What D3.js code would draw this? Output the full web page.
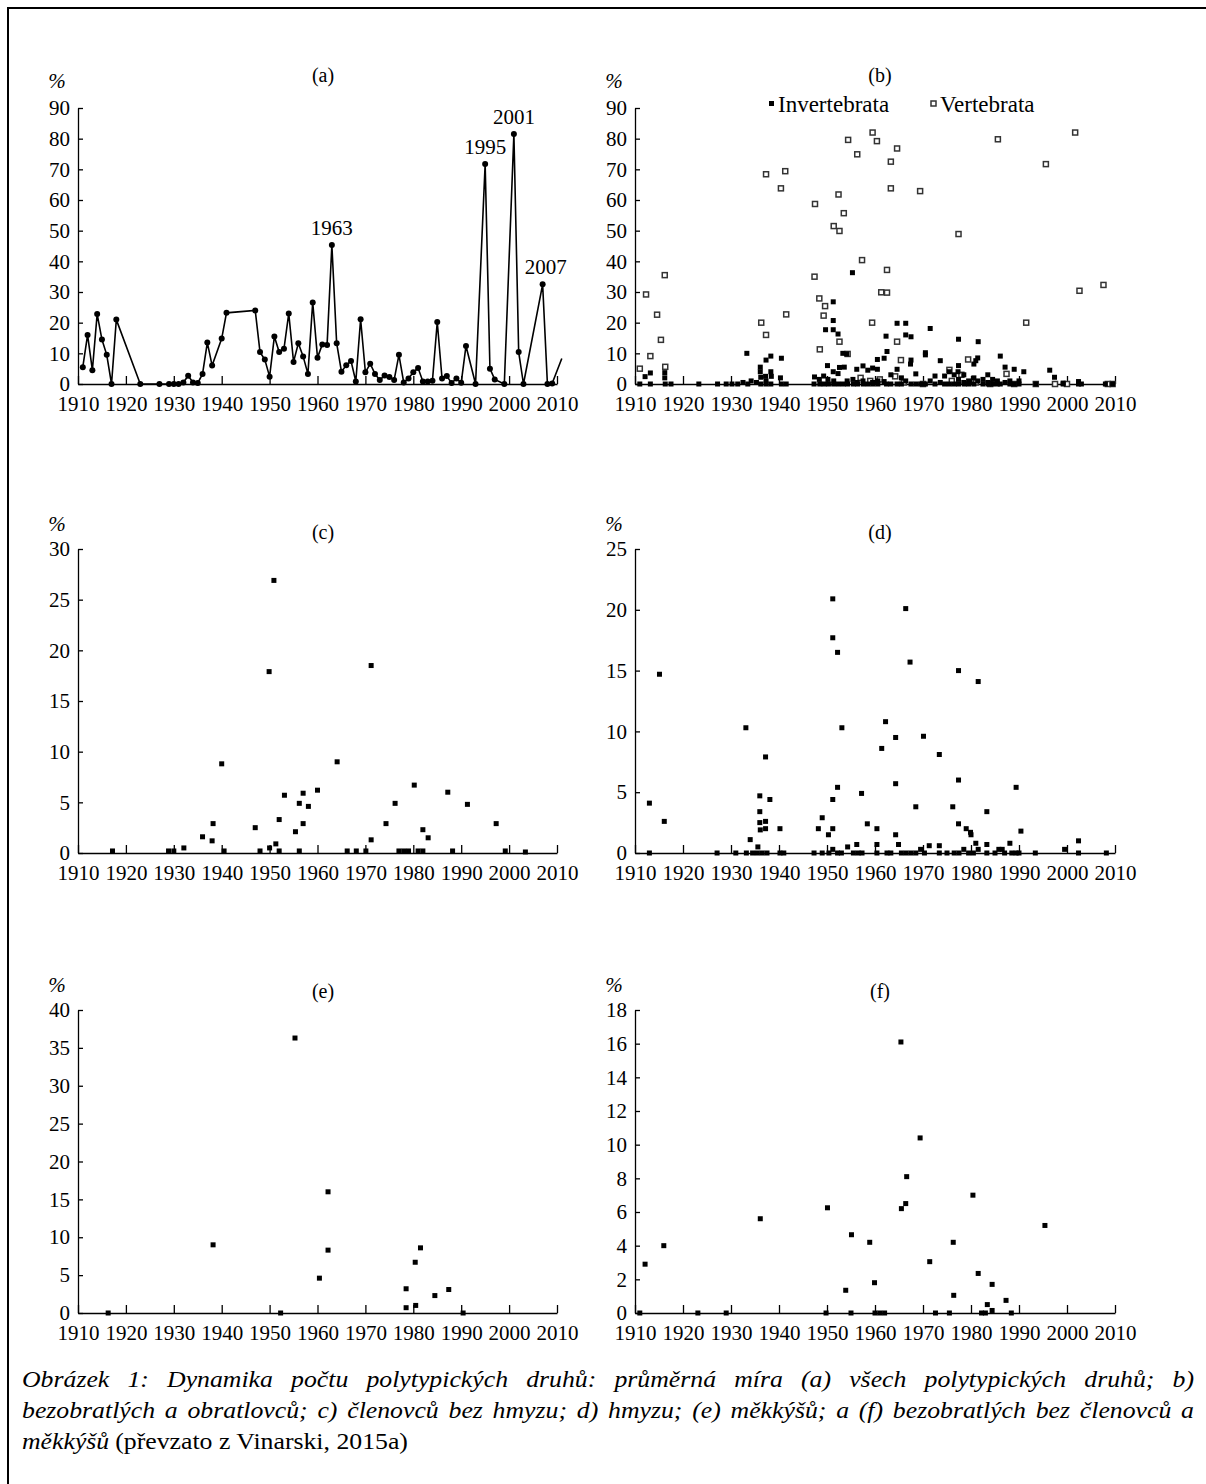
<!DOCTYPE html>
<html>
<head>
<meta charset="utf-8">
<script src="https://cdn.jsdelivr.net/npm/d3@7"></script>
<style>
  body { margin: 0; background: #fff; }
  svg { display: block; }
</style>
</head>
<body>
<svg id="chart" width="1206" height="1484"></svg>
<script>
// ---- data (year, %) ----
var decades = d3.range(1910, 2011, 10);

// (a) mean rate of all polytypic species
var allYears = [1911, 1912, 1913, 1914, 1915, 1916, 1917, 1918, 1923, 1927, 1929, 1930, 1931, 1932, 1933, 1934, 1935, 1936, 1937, 1938,
  1940, 1941, 1947, 1948, 1949, 1950, 1951, 1952, 1953, 1954, 1955, 1956, 1957, 1958, 1959, 1960, 1961, 1962, 1963, 1964,
  1965, 1966, 1967, 1968, 1969, 1970, 1971, 1972, 1973, 1974, 1975, 1976, 1977, 1978, 1979, 1980, 1981, 1982, 1983, 1984,
  1985, 1986, 1987, 1988, 1989, 1990, 1991, 1993, 1995, 1996, 1997, 1999, 2001, 2002, 2003, 2007, 2008, 2009, 2011];
var allValues = [5.5, 16, 4.5, 22.8, 14.5, 9.5, 0, 21, 0, 0, 0, 0, 0, 0.5, 2.7, 0.5, 0.3, 3.3, 13.5, 6,
  14.8, 23.2, 24, 10.4, 8, 2.4, 15.5, 10.4, 11.5, 23, 7.2, 13.3, 9, 3.3, 26.6, 8.6, 12.9, 12.7, 45.3, 13.3,
  4, 6.1, 7.5, 0.8, 21.1, 3.8, 6.6, 3.3, 1.3, 2.8, 2.3, 1.3, 9.5, 0.5, 1.8, 3.8, 5.2, 0.8, 0.8, 1.1,
  20.2, 1.8, 2.6, 0.3, 1.8, 0.4, 12.4, 0, 71.7, 5, 1.5, 0, 81.5, 10.4, 0, 32.5, 0, 0.2, 8.3];
var peakYears = [1963, 1995, 2001, 2007];

// (b) invertebrates and vertebrates
var invertebrata = [[1911,0],[1912.1,2.4],[1913.2,3.6],[1913.2,0],[1916.2,3.7],[1916.2,2],[1916.3,0],[1917.5,0],[1923.3,0],
  [1927.2,0],[1929,0],[1930.2,0],[1931.4,0],[1932.5,0.5],[1933.3,10],[1933.5,0],[1934.2,1],[1935.3,0.5],
  [1936.1,5.5],[1936.1,4],[1936.2,2.2],[1936.2,0],[1937.3,7.8],[1937.3,1],[1937.2,2.5],[1937.3,0],
  [1938.3,9.1],[1938.3,4],[1938.4,2.5],[1938.3,0],[1940.5,8.4],[1940.3,2],[1940.5,0],[1941.5,0],
  [1947.3,0],[1947.4,2.3],[1948.4,1.5],[1948.5,0],[1949.3,2.6],[1949.4,0],[1949.7,17.7],[1950.1,6],[1950.2,1.5],[1950.3,0],
  [1951.3,26.8],[1951.3,20.7],[1951.3,17.7],[1951.3,4],[1951.4,1],[1951.4,0],[1952.3,16.3],[1952.3,3.4],[1952.6,5.4],[1952.4,0],
  [1953.3,10],[1953.6,5.5],[1953.4,0],[1954.1,9.8],[1954.2,1],[1954.3,0],[1955.3,36.3],[1955.4,1.5],[1955.5,0],
  [1956.2,4.8],[1956.3,0.5],[1956.4,0],[1957.5,5.9],[1957.5,1],[1957.6,0],[1958.5,4.5],[1958.6,0],
  [1959.5,5.2],[1959.5,0.5],[1959.6,0],[1960.5,8],[1960.5,4.8],[1960.6,1],[1960.6,0],[1961.9,8.4],[1961.9,0.8],
  [1962.3,15.6],[1962.5,10.6],[1962.4,0],[1963.3,3],[1963.3,0],[1964.6,19.8],[1964.6,4.8],[1964.6,0],[1965.5,2],[1965.5,0],
  [1966.4,19.8],[1966.4,16],[1966.4,1],[1967.5,15.4],[1967.5,7.8],[1967.4,6.5],[1967.5,0],[1968.5,3.3],[1968.5,0],[1969.5,0],
  [1970.5,10.2],[1970.5,9.5],[1970.5,0],[1971.5,18.1],[1971.5,1],[1972.5,2.6],[1972.5,0],[1973.6,7.6],[1973.6,0.5],
  [1974.5,2.6],[1974.5,0],[1975.5,4],[1975.5,0],[1976.5,3],[1976.5,0],[1977.4,14.6],[1977.4,6],[1977.3,4],[1977.4,1.5],[1977.4,0],
  [1978.5,3],[1978.5,0.5],[1978.6,0],[1979.5,1],[1979.5,0],[1980.6,6.5],[1980.6,2],[1980.6,0],[1981,7.6],[1981.4,8.5],
  [1981.5,13.8],[1981.4,1],[1982.5,1.5],[1982.5,0],[1983.5,3],[1983.5,0.5],[1983.6,0],[1984.5,1.5],[1984.5,0],
  [1985.5,1],[1985.5,0],[1986.1,9.1],[1986.1,0],[1987.1,5.5],[1987.1,0.5],[1988.1,1],[1988.1,0],[1989,4.8],[1989,0],
  [1990,1],[1990,0],[1991,4],[1993.5,0],[1996.4,4.5],[1997.4,2.2],[1999.2,0.3],[1999.2,0],[2002.4,0.8],[2002.4,0],
  [2003,0],[2008,0],[2009.5,0]];
var vertebrata = [[1911,5],[1912.3,29.2],[1913.2,9.1],[1914.6,22.6],[1915.4,14.4],[1916.2,35.5],[1916.3,5.6],
  [1936.3,20],[1937.3,16],[1937.3,68.4],[1940.4,63.8],[1941.3,69.4],[1941.5,22.7],
  [1947.4,35],[1947.5,58.7],[1948.4,27.9],[1948.5,11.3],[1949.3,22.3],[1949.6,25.4],[1951.4,51.5],[1952.4,61.8],
  [1952.6,49.9],[1952.6,13.8],[1953.5,55.7],[1954.3,9.8],[1954.4,79.6],[1956.3,74.9],[1957.3,40.4],[1959.4,20],
  [1959.5,82],[1960.4,79.2],[1961.3,29.9],[1962.5,29.8],[1962.5,37.2],[1963.3,72.5],[1963.3,63.8],[1964.6,76.8],
  [1964.6,13.8],[1965.4,7.8],[1964.2,2.5],[1969.4,62.9],[1977.4,48.9],[1985.6,79.8],[1995.6,71.7],[2001.7,82],
  [2002.6,30.4],[2007.6,32.3],[1991.5,20],[1979.4,8],[1975.5,4.6],[1987.4,3.3],[1993.5,0],[1997.5,0],
  [1957,2],[1959,1],[1961,1.5],[1966,0.5],[1970,0],[1976,1],[1978,3],[1981,0.5],[1984,0],[1989,0],[2000,0],[2008.5,0],[2009.5,0]];

// (c) arthropods without insects
var arthropods = [[1917.2,0.2],[1928.9,0.2],[1930,0.2],[1932.1,0.5],[1936,1.6],[1938,1.2],[1938.2,2.9],[1940,8.8],
  [1940.5,0.2],[1947,2.5],[1948,0.2],[1949.9,17.9],[1950,0.5],[1950.9,26.9],[1951.3,0.9],[1952,3.3],[1952,0.2],
  [1953.1,5.7],[1955.4,2.1],[1956.2,4.9],[1956.2,0.2],[1957,5.9],[1957,2.9],[1958.1,4.6],[1960,6.2],[1964.1,9],
  [1966.2,0.2],[1968.1,0.2],[1970.1,0.2],[1971.2,18.5],[1971.2,1.3],[1974.3,2.9],[1976.2,4.9],[1977,0.2],[1978,0.2],
  [1979,0.2],[1980.2,6.7],[1981,0.2],[1982,2.3],[1982,0.2],[1983.1,1.5],[1987.2,6],[1988.2,0.2],[1991.3,4.8],
  [1997.3,2.9],[1999.2,0.2],[2003.4,0.1]];

// (d) insects
var insects = [[1913,4.1],[1913,0],[1915.1,14.7],[1916.1,2.6],[1927.1,0],[1931,0],[1933.1,10.3],[1933.2,0],[1934,1.1],
  [1934.5,0],[1935.6,0.5],[1935.5,0],[1936,4.7],[1936,3.4],[1936,2.5],[1936.1,1.9],[1936.5,0],[1937.2,7.9],[1937.2,2.6],
  [1937.2,2],[1937.5,0],[1938.1,4.4],[1940.2,2],[1940.2,0],[1941,0],[1947.3,0],[1948.2,2],[1949,2.9],[1949,0],
  [1950.3,1.5],[1950.4,0],[1951.2,20.9],[1951.2,17.7],[1951.2,4.4],[1951.2,2],[1951.2,0.3],[1952.2,16.5],[1952.2,5.4],
  [1952.2,0],[1953.1,10.3],[1953,0],[1954.3,0.5],[1955.5,0],[1956.2,0.7],[1956.5,0],[1957.2,4.9],[1957.3,0],[1958.4,2.4],
  [1960.4,2],[1960.4,0.7],[1960.4,0],[1961.4,8.6],[1962.2,10.8],[1962.5,0],[1963.3,0],[1964.3,9.5],[1964.3,5.7],[1964.3,1.5],
  [1964.9,0.7],[1965.5,0],[1966.4,20.1],[1966.5,0],[1967.3,15.7],[1967.5,0],[1968.5,3.8],[1968.5,0],[1969.5,0.3],
  [1970.1,9.6],[1970.3,0],[1971.3,0.6],[1973.4,8.1],[1973.4,0.6],[1973.4,0],[1975,0],[1976.2,3.8],[1976.5,0],
  [1977.4,15],[1977.4,6],[1977.4,2.4],[1977.5,0],[1978.5,0.3],[1979,2],[1979.5,0],[1979.9,1.7],[1980,1.5],[1980.5,0],
  [1981,0.8],[1981.5,14.1],[1981.5,0.3],[1983.3,3.4],[1983.3,0.7],[1983.3,0],[1985,0],[1985.8,0.3],[1986.5,0.3],
  [1987,0],[1988.1,0.8],[1988.5,0],[1989.4,5.4],[1989.4,0],[1990,0],[1990.4,1.8],[1993.4,0],[1999.5,0.3],[2002.4,1],
  [2002.4,0],[2008.2,0]];

// (e) molluscs
var molluscs = [[1916.3,0],[1938.2,9],[1952.3,0],[1955.3,36.3],[1960.4,4.6],[1962.2,16],[1962.2,8.3],[1978.5,0.7],
  [1978.5,3.2],[1980.4,6.7],[1980.5,1],[1981.5,8.6],[1984.5,2.3],[1987.4,3.1],[1990.4,0]];

// (f) invertebrates without arthropods and molluscs
var otherInvertebrates = [[1911,0],[1912.1,2.9],[1916,4],[1923.1,0],[1929,0],[1936.1,5.6],[1949.8,0],[1950.1,6.25],
  [1953.9,1.35],[1955,0],[1955.1,4.65],[1958.9,4.2],[1959.9,1.8],[1960,0],[1961,0],[1962,0],[1965.4,16.1],[1965.5,6.2],
  [1966.4,6.5],[1966.6,8.1],[1969.4,10.4],[1971.4,3.05],[1972.6,0],[1975.5,0],[1976.3,4.2],[1976.4,1.05],[1980.4,7],
  [1981.5,2.35],[1982.2,0],[1983,0],[1983.4,0.5],[1984.4,1.7],[1984.4,0.15],[1987.3,0.75],[1988.4,0],[1995.4,5.2]];

var captionLines = [
  'Obrázek 1: Dynamika počtu polytypických druhů: průměrná míra (a) všech polytypických druhů; b)',
  'bezobratlých a obratlovců; c) členovců bez hmyzu; d) hmyzu; (e) měkkýšů; a (f) bezobratlých bez členovců a'
];

var FONT = '"Liberation Serif", "Times New Roman", serif';
var svg = d3.select('#chart');

// page frame (only top and left edges are inside the picture)
svg.append('rect')
  .attr('x', 8).attr('y', 8).attr('width', 1300).attr('height', 1600)
  .attr('fill', 'none').attr('stroke', '#000').attr('stroke-width', 2);

var cols = [{ x0: 78, x1: 557, mid: 323 }, { x0: 635, x1: 1115, mid: 880 }];
var rows = [
  { top: 108, bot: 384, title: 82, unit: 88 },
  { top: 549, bot: 853, title: 539, unit: 531 },
  { top: 1010, bot: 1313, title: 998, unit: 992 }
];

function makePanel(col, row, yMax, yStep, letter) {
  var x = d3.scaleLinear().domain([1910, 2010]).range([col.x0, col.x1]);
  var y = d3.scaleLinear().domain([0, yMax]).range([row.bot, row.top]);
  var g = svg.append('g');

  g.append('g')
    .attr('transform', 'translate(0,' + row.bot + ')')
    .call(d3.axisBottom(x).tickValues(decades).tickFormat(d3.format('d'))
      .tickSize(-8).tickSizeOuter(0).tickPadding(12));

  g.append('g')
    .attr('transform', 'translate(' + col.x0 + ',0)')
    .call(d3.axisLeft(y).tickValues(d3.range(0, yMax + 0.001, yStep))
      .tickSize(-5).tickSizeOuter(0).tickPadding(8));

  g.selectAll('.tick text')
    .attr('font-family', FONT).attr('font-size', 21).attr('fill', '#000');
  g.selectAll('.domain, .tick line')
    .attr('stroke', '#000').attr('stroke-width', 1.3);

  // panel letter and unit
  g.append('text')
    .attr('x', col.mid).attr('y', row.title)
    .attr('text-anchor', 'middle')
    .attr('font-family', FONT).attr('font-size', 20)
    .text('(' + letter + ')');
  g.append('text')
    .attr('x', col.x0 - 21).attr('y', row.unit)
    .attr('text-anchor', 'middle')
    .attr('font-family', FONT).attr('font-size', 21).attr('font-style', 'italic')
    .text('%');

  return { g: g, x: x, y: y };
}

function squares(p, data, filled) {
  var s = 5;
  p.g.append('g').selectAll('rect')
    .data(data)
    .enter()
    .append('rect')
    .attr('x', function (d) { return p.x(d[0]) - s / 2; })
    .attr('y', function (d) { return p.y(d[1]) - s / 2; })
    .attr('width', s).attr('height', s)
    .attr('fill', filled ? '#000' : '#fff')
    .attr('stroke', filled ? 'none' : '#333')
    .attr('stroke-width', 1.5);
}

// ---- (a) line chart ----
var pa = makePanel(cols[0], rows[0], 90, 10, 'a');
var allData = allYears.map(function (yr, i) { return [yr, allValues[i]]; });

pa.g.append('path')
  .datum(allData)
  .attr('fill', 'none')
  .attr('stroke', '#000')
  .attr('stroke-width', 1.6)
  .attr('d', d3.line().x(function (d) { return pa.x(d[0]); }).y(function (d) { return pa.y(d[1]); }));

pa.g.append('g').selectAll('circle')
  .data(allData.filter(function (d) { return d[0] <= 2010; }))
  .enter()
  .append('circle')
  .attr('cx', function (d) { return pa.x(d[0]); })
  .attr('cy', function (d) { return pa.y(d[1]); })
  .attr('r', 3)
  .attr('fill', '#000');

pa.g.append('g').selectAll('text')
  .data(allData.filter(function (d) { return peakYears.indexOf(d[0]) >= 0; }))
  .enter()
  .append('text')
  .attr('x', function (d) { return pa.x(d[0]) + (d[0] === 2007 ? 3 : 0); })
  .attr('y', function (d) { return pa.y(d[1]) - 10; })
  .attr('text-anchor', 'middle')
  .attr('font-family', FONT).attr('font-size', 21)
  .text(function (d) { return d[0]; });

// ---- (b) invertebrates vs vertebrates ----
var pb = makePanel(cols[1], rows[0], 90, 10, 'b');
squares(pb, vertebrata, false);
squares(pb, invertebrata, true);

// legend
var legend = pb.g.append('g').attr('font-family', FONT).attr('font-size', 23);
legend.append('rect').attr('x', 769).attr('y', 101).attr('width', 5).attr('height', 5).attr('fill', '#000');
legend.append('text').attr('x', 778).attr('y', 112).text('Invertebrata');
legend.append('rect').attr('x', 931).attr('y', 101).attr('width', 5).attr('height', 5)
  .attr('fill', '#fff').attr('stroke', '#333').attr('stroke-width', 1.5);
legend.append('text').attr('x', 940).attr('y', 112).text('Vertebrata');

// ---- (c) - (f) scatter panels ----
var pc = makePanel(cols[0], rows[1], 30, 5, 'c');
squares(pc, arthropods, true);

var pd = makePanel(cols[1], rows[1], 25, 5, 'd');
squares(pd, insects, true);

var pe = makePanel(cols[0], rows[2], 40, 5, 'e');
squares(pe, molluscs, true);

var pf = makePanel(cols[1], rows[2], 18, 2, 'f');
squares(pf, otherInvertebrates, true);

// ---- caption, justified between the frame margins ----
// the source typeface is a little wider than Liberation Serif, so words are stretched a bit
var capLeft = 22, capRight = 1194, stretch = 1.12;
var capY = [1387, 1418];

captionLines.forEach(function (line, i) {
  var words = line.split(' ');
  var texts = words.map(function (w) {
    return svg.append('text')
      .attr('y', capY[i])
      .attr('font-family', FONT).attr('font-size', 23).attr('font-style', 'italic')
      .text(w);
  });
  var widths = texts.map(function (t) {
    var w = t.node().getComputedTextLength() * stretch;
    t.attr('textLength', w).attr('lengthAdjust', 'spacingAndGlyphs');
    return w;
  });
  var gap = (capRight - capLeft - d3.sum(widths)) / (words.length - 1);
  var cx = capLeft;
  texts.forEach(function (t, j) {
    t.attr('x', cx);
    cx += widths[j] + gap;
  });
});

var lastParts = [{ t: 'měkkýšů', italic: true }, { t: '(převzato z Vinarski, 2015a)', italic: false }];
var lx = capLeft;
lastParts.forEach(function (part) {
  var t = svg.append('text')
    .attr('x', lx).attr('y', 1449)
    .attr('font-family', FONT).attr('font-size', 23)
    .attr('font-style', part.italic ? 'italic' : 'normal')
    .text(part.t);
  var w = t.node().getComputedTextLength() * stretch;
  t.attr('textLength', w).attr('lengthAdjust', 'spacingAndGlyphs');
  lx += w + 6;
});
</script>
</body>
</html>
